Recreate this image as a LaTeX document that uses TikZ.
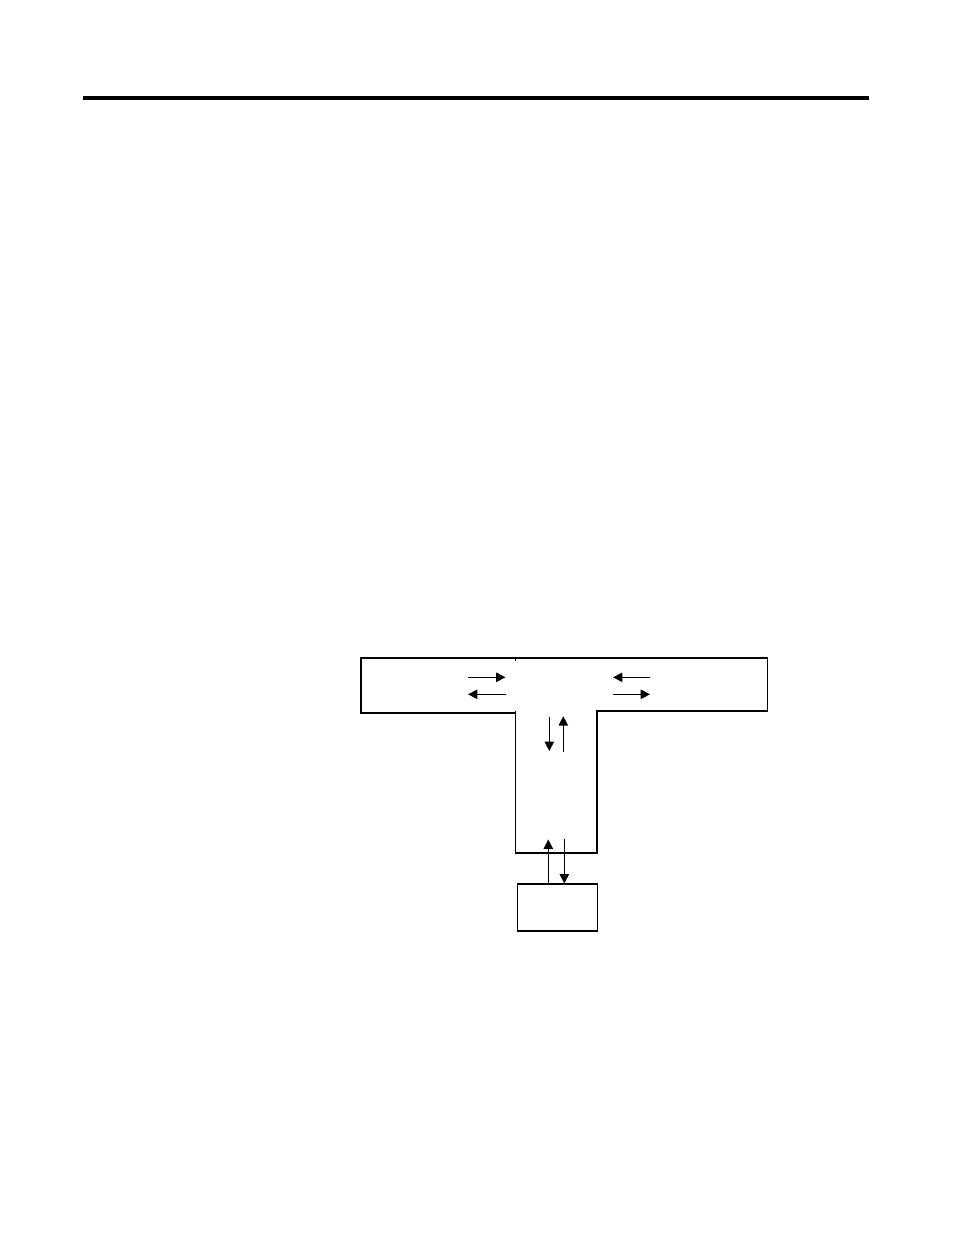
\documentclass[tikz,border=0pt]{standalone}
\usepackage{tikz}
\usetikzlibrary{arrows.meta,positioning}

\begin{document}
\begin{tikzpicture}[x=0.6415pt, y=-0.6415pt,
	wall/.style={line width=0.75pt},
	flow/.style={line width=0.75pt, -{Triangle[length=6pt, width=6pt]}},
	unit/.style={draw, line width=0.75pt, minimum width=51.3pt, minimum height=30.1pt, inner sep=0pt}]
	\useasboundingbox (0,0) rectangle (954,1235);
	\draw[line width=2.6pt] (83,98) -- (869,98);

	% T-shaped duct
	\draw[wall] (515.7,713) -- (361,713) -- (361,658) -- (515.7,658);
	\draw[wall] (515.7,661) -- (515.7,658) -- (767.7,658) -- (767.7,711)
		-- (597,711) -- (597,853) -- (515.7,853) -- (515.7,711);

	\node[unit] (box) at (557.2,907.5) {};

	% left branch
	\coordinate (la1) at (468,677.3);
	\coordinate (lb1) at (505.5,677.3);
	\coordinate (la2) at (468,694.3);
	\coordinate (lb2) at (505.5,694.3);
	% right branch
	\coordinate (ra1) at (613,677.3);
	\coordinate (rb1) at (650,677.3);
	\coordinate (ra2) at (613,694.3);
	\coordinate (rb2) at (650,694.3);
	% stem
	\coordinate (sa) at (549.3,716.7);
	\coordinate (sb) at (549.3,751);
	\coordinate (sc) at (563.3,751.7);
	\coordinate (sd) at (563.3,716.2);
	% lower end
	\coordinate (ua) at (548.3,839.5);
	\coordinate (ub) at (564.3,839);

	\draw[flow] (la1) -- (lb1);
	\draw[flow] (lb2) -- (la2);
	\draw[flow] (rb1) -- (ra1);
	\draw[flow] (ra2) -- (rb2);
	\draw[flow] (sa) -- (sb);
	\draw[flow] (sc) -- (sd);
	\draw[flow] (box.north -| ua) -- (ua);
	\draw[flow] (ub) -- (box.north -| ub);
\end{tikzpicture}
\end{document}
